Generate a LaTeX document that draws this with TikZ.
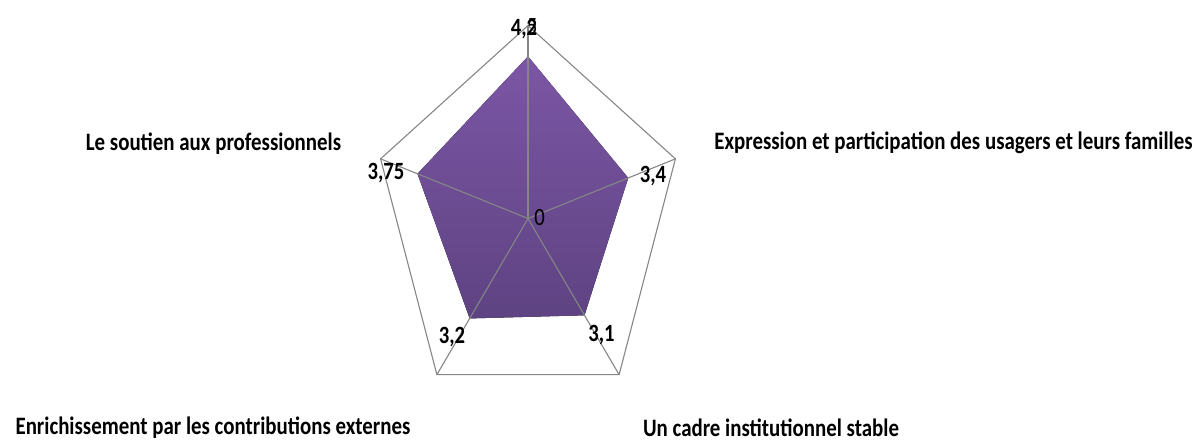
\documentclass[tikz,border=0pt]{standalone}
\usepackage{fontspec}
\setmainfont{Carlito}
\usetikzlibrary{calc}
\definecolor{gridgray}{RGB}{134,134,134}
\definecolor{purptop}{RGB}{124,86,165}
\definecolor{purpbot}{RGB}{94,67,130}
\tikzset{
  grid/.style={draw=gridgray, line width=1.1pt},
  cat/.style={inner sep=0pt, font=\fontsize{20.9}{23}\selectfont\bfseries},
  val/.style={inner sep=0pt, font=\fontsize{20.7}{23}\selectfont\bfseries},
  tick/.style={inner sep=0pt, font=\fontsize{20.7}{23}\selectfont},
}
\newcommand{\stretchtext}[1]{\scalebox{1}[1.2]{#1}}
\begin{document}
\begin{tikzpicture}[x=1pt,y=-1pt]
\useasboundingbox (0,0) rectangle (1203,442);
\coordinate (C) at (528,218.5);
% outer vertices
\foreach \i in {0,...,4}{
  \coordinate (v\i) at ($(C)+({155*sin(72*\i)},{-193*cos(72*\i)})$);
}
% data points
\foreach \i/\v in {0/4.2,1/3.4,2/3.1,3/3.2,4/3.75}{
  \coordinate (d\i) at ($(C)+({155*\v/5*sin(72*\i)},{-193*\v/5*cos(72*\i)})$);
}
\fill[top color=purptop, bottom color=purpbot] (d0) -- (d1) -- (d2) -- (d3) -- (d4) -- cycle;
\draw[grid] (v0) -- (v1) -- (v2) -- (v3) -- (v4) -- cycle;
\foreach \i in {0,...,4}{ \draw[grid] (C) -- (v\i); }
% tick labels
\node[tick] (t0) at (539.5,218) {\stretchtext{0}};
\node[tick] (t5) at (532,27) {\stretchtext{5}};
% value labels
\node[val] (l0) at (524,29) {\stretchtext{4,2}};
\node[val] (l1) at (653,176) {\stretchtext{3,4}};
\node[val] (l2) at (601.5,335) {\stretchtext{3,1}};
\node[val] (l3) at (452,337) {\stretchtext{3,2}};
\node[val] (l4) at (386,173) {\stretchtext{3,75}};
% category labels
\node[cat] (c1) at (953.5,143) {\stretchtext{Expression et participation des usagers et leurs familles}};
\node[cat] (c2) at (771,427.5) {\stretchtext{Un cadre institutionnel stable}};
\node[cat] (c3) at (213,427.5) {\stretchtext{Enrichissement par les contributions externes}};
\node[cat] (c4) at (213.5,144) {\stretchtext{Le soutien aux professionnels}};
\end{tikzpicture}
\end{document}
